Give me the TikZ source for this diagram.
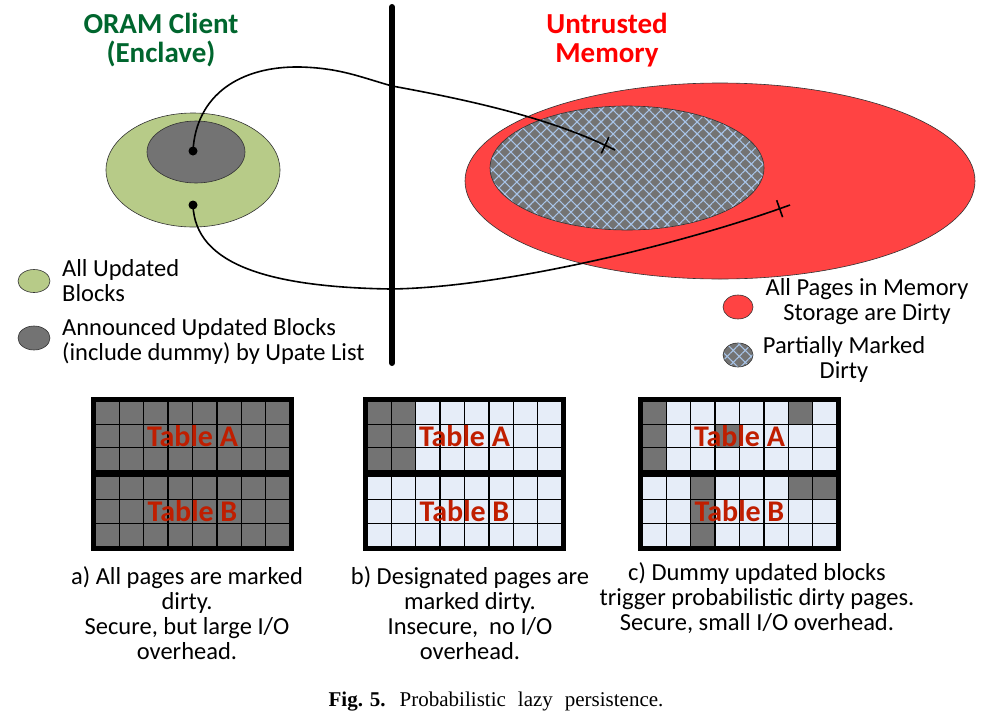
\documentclass[tikz,border=0pt]{standalone}
\usepackage{fontspec}
\setmainfont{Carlito}
\newfontfamily\capfont{Liberation Serif}
\usetikzlibrary{patterns.meta,decorations.markings}
\definecolor{greenfill}{RGB}{183,203,136}
\definecolor{darkcell}{RGB}{115,115,115}
\definecolor{redfill}{RGB}{255,67,67}
\definecolor{hatchblue}{RGB}{168,196,232}
\definecolor{lightcell}{RGB}{230,237,248}
\definecolor{titlegreen}{RGB}{0,102,46}
\definecolor{titlered}{RGB}{255,0,0}
\definecolor{tblred}{RGB}{192,30,0}
\tikzset{
  body/.style={font=\fontsize{24.5}{25}\selectfont, inner sep=0pt},
  titletext/.style={font=\fontsize{29}{29}\selectfont\bfseries, inner sep=0pt, align=center},
  tbltext/.style={font=\fontsize{30}{30}\selectfont\bfseries, text=tblred, inner sep=0pt},
  gridline/.style={line width=1.3pt, black},
  frame/.style={line width=5pt, black},
  outl/.style={draw=black!80, line width=0.6pt},
  hatchfill/.style={preaction={fill=darkcell}, pattern={Hatch[angle=45,distance=8.5pt,line width=1.1pt]}, pattern color=hatchblue},
  dotnode/.style={circle, fill=black, inner sep=0pt, minimum size=9pt},
  conn/.style={line width=1.6pt, black},
  barend/.style={postaction={decorate}, decoration={markings, mark=at position -11pt with {\draw[line width=1.6pt] (0,-9pt) -- (0,9pt);}}}
}
\newcommand\grayA[3]{\fill[darkcell] ({#1+4+24.375*#2},{401+23.333*#3}) rectangle ++(24.375,23.333);}
\newcommand\grayB[3]{\fill[darkcell] ({#1+4+24.375*#2},{476+23.667*#3}) rectangle ++(24.375,23.667);}
\newcommand\tblbase[1]{%
  \fill[lightcell] (#1+4,401) rectangle (#1+199,471);
  \fill[lightcell] (#1+4,476) rectangle (#1+199,547);}
\newcommand\tblgrid[1]{%
  \foreach \i in {0,...,8}{\draw[gridline] ({#1+4+24.375*\i},401) -- ++(0,70); \draw[gridline] ({#1+4+24.375*\i},476) -- ++(0,71);}
  \foreach \j in {0,...,3}{\draw[gridline] (#1+4,{401+23.333*\j}) -- ++(195,0); \draw[gridline] (#1+4,{476+23.667*\j}) -- ++(195,0);}
  \draw[frame] (#1+2.5,399.5) rectangle (#1+200.5,548.5);
  \draw[frame] (#1+2.5,473) -- (#1+200.5,473);
  \node[tbltext] (tA#1) at (#1+101.5,436.5) {Table A};
  \node[tbltext] (tB#1) at (#1+101.5,511) {Table B};}
\begin{document}
\begin{tikzpicture}[x=1pt,y=-1pt]
\useasboundingbox (0,0) rectangle (985,723);
\fill[white] (0,0) rectangle (985,723);
% titles
\node[titletext, text=titlegreen] (tleft) at (161,40) {ORAM Client\\(Enclave)};
\node[titletext, text=titlered] (tright) at (607,40) {Untrusted\\Memory};
% divider
\draw[line width=6pt, line cap=round] (392,7) -- (392,363);
% client ellipses
\fill[greenfill, outl] (193,170) ellipse [x radius=87, y radius=57];
\fill[darkcell, outl] (196,152) ellipse [x radius=49, y radius=31];
% memory ellipses
\fill[redfill, outl] (720,181) ellipse [x radius=255, y radius=98];
\draw[hatchfill, outl] (627,168) ellipse [x radius=137, y radius=62];
% dots and connectors
\node[dotnode] (d1) at (193,151) {};
\node[dotnode] (d2) at (193,205) {};
\coordinate (e1) at (615,150);
\coordinate (e2) at (790,205);
\draw[conn, barend] (d1.center) .. controls (196,95) and (240,66) .. (300,67)
  .. controls (340,68) and (360,77) .. (392,86)
  .. controls (480,102) and (555,120) .. (e1);
\draw[conn, barend] (d2.center) .. controls (195,265) and (270,287) .. (390,289)
  .. controls (500,288) and (680,245) .. (e2);
% left legend
\fill[greenfill, outl] (34,281) ellipse [x radius=16, y radius=11.5];
\fill[darkcell, outl] (34,338) ellipse [x radius=16, y radius=12];
\node[body, align=left, anchor=west] (l1) at (62,281) {All Updated\\Blocks};
\node[body, align=left, anchor=west] (l2) at (62,341) {Announced Updated Blocks\\(include dummy) by Upate List};
% right legend
\fill[redfill, outl] (738,307) ellipse [x radius=15, y radius=12];
\draw[hatchfill, outl] (738,355) ellipse [x radius=15, y radius=12];
\node[body, align=center] (r1) at (867,302) {All Pages in Memory\\Storage are Dirty};
\node[body, align=center] (r2) at (844,359) {Partially Marked\\Dirty};
% tables
\fill[darkcell] (95,401) rectangle (290,471);
\fill[darkcell] (95,476) rectangle (290,547);
\tblgrid{91}
\tblbase{363}
\foreach \r in {0,1,2}{\grayA{363}{0}{\r}\grayA{363}{1}{\r}}
\tblgrid{363}
\tblbase{638}
\foreach \r in {0,1,2}{\grayA{638}{0}{\r}\grayB{638}{2}{\r}}
\grayA{638}{6}{0}\grayA{638}{3}{1}
\grayB{638}{6}{0}\grayB{638}{7}{0}
\tblgrid{638}
% captions under tables
\node[body, align=center] (ca) at (187,613) {a) All pages are marked\\dirty.\\Secure, but large I/O\\overhead.};
\node[body, align=center] (cb) at (470,613) {b) Designated pages are\\marked dirty.\\Insecure,~~no I/O\\overhead.};
\node[body, align=center] (cc) at (757,598) {c) Dummy updated blocks\\trigger probabilistic dirty pages.\\Secure, small I/O overhead.};
% figure caption
\node[font=\capfont\fontsize{21}{23}\selectfont, inner sep=0pt] (fig) at (496,702) {\textbf{Fig.\hspace{7pt}5.}\hspace{14pt}Probabilistic\hspace{12pt}lazy\hspace{12pt}persistence.};
\end{tikzpicture}
\end{document}
